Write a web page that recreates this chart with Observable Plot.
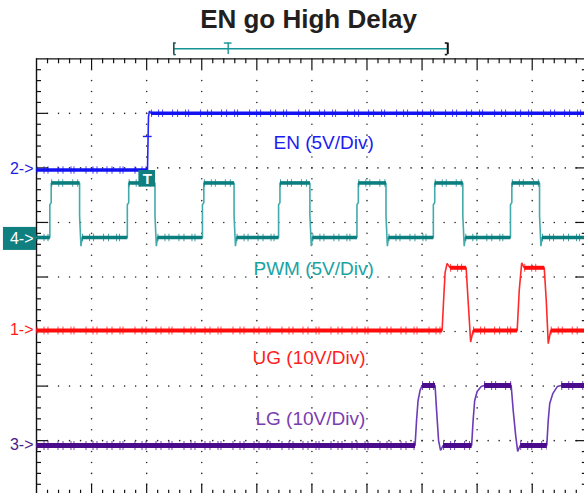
<!DOCTYPE html>
<html>
<head>
<meta charset="utf-8">
<script src="https://cdn.jsdelivr.net/npm/d3@7"></script>
<script src="https://cdn.jsdelivr.net/npm/@observablehq/plot@0.6"></script>
<style>
  html, body { margin: 0; padding: 0; background: #fff; overflow: hidden; }
  #title {
    width: 584px; height: 38px; box-sizing: border-box; padding-left: 33px;
    text-align: center; font-family: "Liberation Sans", Arial, Helvetica, sans-serif;
    font-weight: bold; font-size: 26px; line-height: 38px; color: #231f20; white-space: nowrap;
  }
  #chart svg { display: block; }
</style>
</head>
<body>
<div id="title">EN go High Delay</div>
<div id="chart"></div>
<script>
// ---------------- data (time in divisions, amplitude in volts) ----------------
const channels       = ["EN", "PWM", "UG", "LG"];
const channelNumbers = [2, 4, 1, 3];
const channelLabels  = ["EN (5V/Div)", "PWM (5V/Div)", "UG (10V/Div)", "LG (10V/Div)"];
const voltsPerDiv    = [5, 5, 10, 10];
const groundDiv      = [5.962, 4.724, 3.019, 0.911];   // ground reference marker level (div)
const labelTime      = [4.303, 3.940, 3.922, 3.976];   // channel caption anchor (div)
const labelLevel     = [6.347, 4.028, 2.405, 1.287];   // channel caption baseline (div)

const xDivs = [0, 1, 2, 3, 4, 5, 6, 7, 8, 9, 10];
const yDivs = [0, 1, 2, 3, 4, 5, 6, 7, 8];

const enTime  = [0, 2.015, 2.033, 2.05, 2.08, 9.95];
const enVolts = [0, 0, 4.9, 5.4, 5.2, 5.2];

const pwmTime = [0,
  0.242, 0.242, 0.267, 0.267, 0.782, 0.782, 0.807, 0.827,
  1.649, 1.649, 1.674, 1.674, 2.151, 2.151, 2.176, 2.196,
  3.013, 3.013, 3.038, 3.038, 3.587, 3.587, 3.612, 3.632,
  4.395, 4.395, 4.420, 4.420, 4.964, 4.964, 4.989, 5.009,
  5.818, 5.818, 5.843, 5.843, 6.345, 6.345, 6.370, 6.390,
  7.205, 7.205, 7.230, 7.230, 7.740, 7.740, 7.765, 7.785,
  8.605, 8.605, 8.630, 8.630, 9.133, 9.133, 9.158, 9.178,
  9.95];
const pwmVolts = [0,
  0, 3, 3.2, 5, 5, 2, -0.8, 0,
  0, 3, 3.2, 5, 5, 2, -0.8, 0,
  0, 3, 3.2, 5, 5, 2, -0.8, 0,
  0, 3, 3.2, 5, 5, 2, -0.8, 0,
  0, 3, 3.2, 5, 5, 2, -0.8, 0,
  0, 3, 3.2, 5, 5, 2, -0.8, 0,
  0, 3, 3.2, 5, 5, 2, -0.8, 0,
  0];

const ugTime  = [0, 7.364, 7.391, 7.418, 7.455, 7.509, 7.800, 7.836, 7.882, 7.927,
                 8.727, 8.764, 8.809, 8.855, 9.218, 9.255, 9.291, 9.336, 9.95];
const ugVolts = [0, 0, 5.5, 10.6, 12.3, 11.5, 11.5, 5.5, -2.1, 0,
                 0, 7.3, 12.4, 11.5, 11.5, 5.5, -2.4, 0, 0];

const lgTime  = [0, 6.873, 6.900, 6.927, 6.964, 7.000, 7.236, 7.264, 7.300, 7.336, 7.382,
                 7.900, 7.927, 7.955, 8.000, 8.073, 8.127, 8.618, 8.655, 8.700, 8.736, 8.782,
                 9.264, 9.291, 9.318, 9.373, 9.455, 9.527, 9.95];
const lgVolts = [0, 0, 4.6, 8.2, 10.1, 11, 11, 6.4, 0.9, -0.9, 0,
                 0, 4.6, 8.2, 9.9, 10.8, 11, 11, 6.4, 1.8, -1.1, 0,
                 0, 4.6, 7.7, 9.5, 10.8, 11, 11];

const triggerTime  = 2.010;   // trigger marker position (div)
const triggerLevel = 3.07;    // EN trigger level (V)
const triggerBoxLevel = 5.800;
const windowStart = 2.493, windowTrigger = 3.480, windowEnd = 7.467, windowLevel = 8.183;

// ---------------- styles ----------------
const font = "Liberation Sans, Arial, Helvetica, sans-serif";
const flatColor  = ["#1212f2", "#0b7e80", "#ff0d0d", "#4a0c8c"];
const edgeColor  = ["#2424ff", "#43abab", "#ff2a2a", "#6c3cb8"];
const labelColor = ["#1c1cf0", "#1aa3a3", "#ff1e1e", "#7a3db0"];
const flatWidth  = [3.6, 3.6, 4, 5];
const pxX = 55.08, pxY = 54.55;   // pixels per division

// ---------------- tables built from the data ----------------
const seriesT = [enTime, pwmTime, ugTime, lgTime];
const seriesV = [enVolts, pwmVolts, ugVolts, lgVolts];
const traces = channels.map((ch, i) =>
  seriesT[i].map((t, k) => ({ch, t, y: groundDiv[i] + seriesV[i][k] / voltsPerDiv[i]})));
const flats = traces.map(rows => {
  const out = [];
  for (let k = 1; k < rows.length; k++) {
    const a = rows[k - 1], b = rows[k];
    if (a.y === b.y && b.t - a.t > 0.08) out.push({t1: a.t, t2: b.t, y: a.y});
  }
  return out;
});

const gridDots = [];
for (const t of xDivs.slice(1, -1)) for (let k = 1; k < 40; k++) gridDots.push({t, y: k / 5});
for (const y of yDivs.slice(1, -1)) for (let k = 1; k < 50; k++) gridDots.push({t: k / 5, y});
const ticksX = d3.range(1, 50).map(k => k / 5);
const ticksY = d3.range(1, 40).map(k => k / 5);
const isMajor = v => Math.abs(v - Math.round(v)) < 1e-6;
const lenV = v => (isMajor(v) ? 11 : 5) / pxY;
const lenH = v => (isMajor(v) ? 11.5 : 5) / pxX;

const marks = [];
// grid
marks.push(Plot.dot(gridDots, {x: "t", y: "y", r: 0.8, fill: "#2b2b2b", stroke: null}));
// border
const ink = "#111";
marks.push(Plot.ruleX([xDivs[0]], {x: d => d, y1: () => yDivs[0], y2: () => yDivs[8], stroke: ink, strokeWidth: 1.4}));
marks.push(Plot.ruleX([xDivs[10]], {x: d => d, y1: () => yDivs[0], y2: () => yDivs[8], stroke: ink, strokeWidth: 1.4}));
marks.push(Plot.ruleY([yDivs[8]], {y: d => d, x1: () => xDivs[0], x2: () => xDivs[10], stroke: ink, strokeWidth: 1.2}));
marks.push(Plot.ruleY([yDivs[0]], {y: d => d, x1: () => xDivs[0], x2: () => xDivs[10], stroke: ink, strokeWidth: 1.2}));
marks.push(Plot.ruleX(ticksX, {x: d => d, y1: () => 8, y2: d => 8 - lenV(d), stroke: ink, strokeWidth: 1.2}));
marks.push(Plot.ruleX(ticksX, {x: d => d, y1: () => 0, y2: d => lenV(d), stroke: ink, strokeWidth: 1.2}));
marks.push(Plot.ruleY(ticksY, {y: d => d, x1: () => 0, x2: d => lenH(d), stroke: ink, strokeWidth: 1.2}));
marks.push(Plot.ruleY(ticksY, {y: d => d, x1: () => 10, x2: d => 10 - lenH(d), stroke: ink, strokeWidth: 1.2}));

// traces
channels.forEach((ch, i) => {
  marks.push(Plot.line(traces[i], {x: "t", y: "y", stroke: edgeColor[i], strokeWidth: 1.6, strokeLinejoin: "miter"}));
  marks.push(Plot.link(flats[i], {x1: "t1", x2: "t2", y1: "y", y2: "y", stroke: flatColor[i],
    strokeWidth: flatWidth[i], strokeLinecap: "butt"}));
  marks.push(Plot.link(flats[i], {x1: "t1", x2: "t2", y1: "y", y2: "y", stroke: flatColor[i],
    strokeWidth: flatWidth[i] + 4, strokeLinecap: "butt", strokeOpacity: 0.75,
    strokeDasharray: "1 6 1 3 1 9 1 4 1 7 1 2 1 11"}));
});

// channel captions
channels.forEach((ch, i) => {
  marks.push(Plot.text([channelLabels[i]], {x: () => labelTime[i], y: () => labelLevel[i], text: d => d,
    fill: labelColor[i], fontSize: 19, fontFamily: font, textAnchor: "start", lineAnchor: "bottom"}));
});

// ground markers
const markerBox = [{x1: -0.6, x2: 0, y1: groundDiv[1] - 0.237, y2: groundDiv[1] + 0.185}];
marks.push(Plot.rect(markerBox, {x1: "x1", x2: "x2", y1: "y1", y2: "y2", fill: "#0f7f80"}));
channels.forEach((ch, i) => {
  marks.push(Plot.text([channelNumbers[i] + "->"], {frameAnchor: "left", y: () => groundDiv[i] + (i === 1 ? -0.03 : 0.02),
    text: d => d, dx: -3, textAnchor: "end", lineAnchor: "middle", fontSize: 16, fontFamily: font,
    fill: i === 1 ? "#ffffff" : [ "#1d1de0", "#fff", "#ff1a1a", "#4a1a8c"][i]}));
});

// trigger markers
marks.push(Plot.ruleY([{t: triggerTime, v: triggerLevel}], {y: d => groundDiv[0] + d.v / voltsPerDiv[0],
  x1: d => d.t - 0.07, x2: d => d.t + 0.09, stroke: "#2020ff", strokeWidth: 1.4}));
marks.push(Plot.rect([{t: triggerTime, y: triggerBoxLevel}], {x1: d => d.t - 0.151, x2: d => d.t + 0.151,
  y1: d => d.y - 0.152, y2: d => d.y + 0.152, fill: "#0f7f80"}));
marks.push(Plot.text(["T"], {x: () => triggerTime, y: () => triggerBoxLevel, text: d => d, fill: "#ffffff",
  fontSize: 15, fontWeight: "bold", fontFamily: font, lineAnchor: "middle"}));

// acquisition window bracket above the screen
const hb = 0.106, sx = 0.045;
marks.push(Plot.ruleY([windowLevel], {y: d => d, x1: () => windowStart, x2: () => windowEnd, stroke: "#169494", strokeWidth: 1.6}));
marks.push(Plot.ruleX([windowStart], {x: d => d, y1: () => windowLevel - hb, y2: () => windowLevel + hb, stroke: "#1f5050", strokeWidth: 1.6}));
marks.push(Plot.ruleY([windowLevel - hb, windowLevel + hb], {y: d => d, x1: () => windowStart, x2: () => windowStart + sx, stroke: "#1f5050", strokeWidth: 1.4}));
marks.push(Plot.ruleX([windowEnd], {x: d => d, y1: () => windowLevel - hb, y2: () => windowLevel + hb, stroke: "#111", strokeWidth: 2}));
marks.push(Plot.ruleY([windowLevel - hb, windowLevel + hb], {y: d => d, x1: () => windowEnd - sx, x2: () => windowEnd, stroke: "#111", strokeWidth: 1.6}));
marks.push(Plot.ruleX([windowTrigger], {x: d => d, y1: () => windowLevel - hb, y2: () => windowLevel + hb, stroke: "#169494", strokeWidth: 1.4}));
marks.push(Plot.ruleY([windowLevel + hb], {y: d => d, x1: () => windowTrigger - 0.07, x2: () => windowTrigger + 0.07, stroke: "#169494", strokeWidth: 1.4}));

const chart = Plot.plot({
  width: 584, height: 455,
  marginLeft: 36, marginRight: 0, marginTop: 20.3, marginBottom: 0,
  x: {domain: [0, 548 / pxX], axis: null},
  y: {domain: [8 - 434.7 / pxY, 8], axis: null},
  style: {background: "white", overflow: "hidden"},
  marks
});
document.getElementById("chart").appendChild(chart);
</script>
</body>
</html>
